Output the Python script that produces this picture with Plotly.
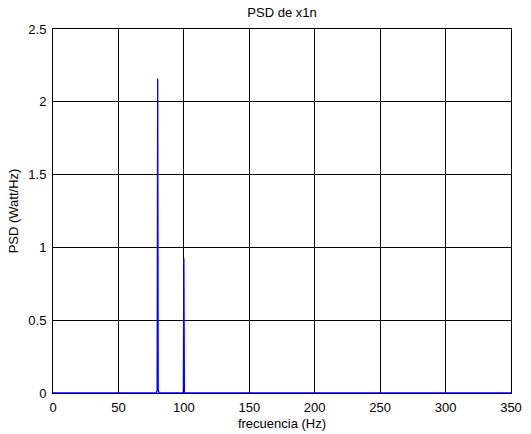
import plotly.graph_objects as go

freq = [0, 79.0, 79.6, 80.0, 80.4, 81.0, 99.6, 100.0, 100.4, 350]
psd = [0, 0.0, 0.02, 2.16, 0.02, 0.0, 0.0, 0.925, 0.0, 0]
x_ticks = [0, 50, 100, 150, 200, 250, 300, 350]
y_ticks = [0, 0.5, 1, 1.5, 2, 2.5]
y_tick_labels = ["0", "0.5", "1", "1.5", "2", "2.5"]

FAM = "Liberation Sans, Arial, sans-serif"
font = dict(family=FAM, size=13, color="black")

fig = go.Figure()
fig.add_trace(go.Scatter(x=freq, y=psd, mode="lines",
                         line=dict(color="#0000ff", width=1.3), showlegend=False,
                         cliponaxis=False))

fig.update_layout(
    width=531, height=434,
    margin=dict(l=53, r=20, t=29, b=41),
    paper_bgcolor="white", plot_bgcolor="white",
    font=font,
    title=dict(text="PSD de x1n", x=0.5, xanchor="center", xref="paper",
               y=1, yref="container", yanchor="top", pad=dict(t=8),
               font=dict(family=FAM, size=13, color="black")),
    xaxis=dict(range=[0, 350], tickvals=x_ticks, ticktext=[str(v) for v in x_ticks],
               showgrid=True, gridcolor="black", gridwidth=1,
               showline=True, linecolor="black", linewidth=1, mirror=True,
               ticks="inside", ticklen=4, tickcolor="black", zeroline=False,
               ticklabelstandoff=2, automargin=False,
               tickfont=dict(family=FAM, size=13, color="black"),
               title=dict(text="frecuencia (Hz)", standoff=5,
                          font=dict(family=FAM, size=13, color="black"))),
    yaxis=dict(range=[0, 2.5], tickvals=y_ticks, ticktext=y_tick_labels,
               showgrid=True, gridcolor="black", gridwidth=1,
               showline=True, linecolor="black", linewidth=1, mirror=True,
               ticks="inside", ticklen=4, tickcolor="black", zeroline=False,
               ticklabelstandoff=3, automargin=False,
               tickfont=dict(family=FAM, size=13, color="black"),
               title=dict(text="PSD (Watt/Hz)", standoff=6,
                          font=dict(family=FAM, size=13, color="black"))),
)
fig.write_html("out.html")
